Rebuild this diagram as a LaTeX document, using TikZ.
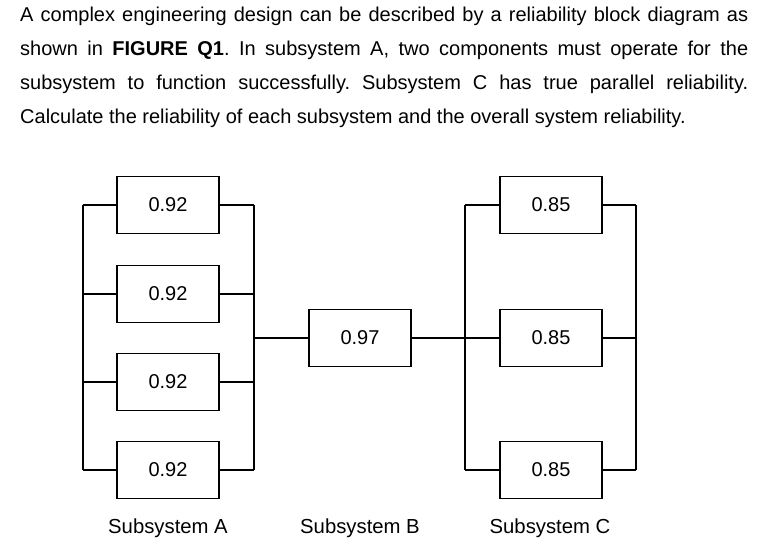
\documentclass[tikz,border=0pt]{standalone}
\usepackage{fontspec}
\setmainfont{Liberation Sans}
\begin{document}
\begin{tikzpicture}[x=1pt,y=-1pt,
  blk/.style={draw,line width=1.3pt,minimum width=102pt,minimum height=57pt,inner sep=0pt,font=\fontsize{20}{22}\selectfont},
  wire/.style={line width=2.6pt},
  lbl/.style={font=\fontsize{20.3}{22}\selectfont,inner sep=0pt}]
\useasboundingbox (0,0) rectangle (772,548);
\node[anchor=north west,inner sep=0pt,text width=728pt,align=justify,font=\fontsize{20}{34}\selectfont] (para) at (20,7)
{\frenchspacing\hyphenpenalty=10000 A complex engineering design can be described by a reliability block diagram as\linebreak shown in \textbf{FIGURE Q1}. In subsystem A, two components must operate for the\linebreak subsystem to function successfully. Subsystem C has true parallel reliability.\linebreak Calculate the reliability of each subsystem and the overall system reliability.\par};
% subsystem A
\foreach \i/\y in {1/205,2/294,3/382,4/470}{
  \node[blk] (a\i) at (168,\y) {0.92};
  \coordinate (al\i) at (83,\y);
  \coordinate (ar\i) at (254,\y);
  \draw[wire] (al\i) -- (a\i.west);
  \draw[wire] (a\i.east) -- (ar\i);
}
\draw[wire] (al1) -- (al4);
\draw[wire] (ar1) -- (ar4);
% subsystem B
\node[blk] (b) at (360,338) {0.97};
\coordinate (aj) at (254,338);
% subsystem C
\foreach \i/\y in {1/205,2/338,3/470}{
  \node[blk] (c\i) at (551,\y) {0.85};
  \coordinate (cl\i) at (465,\y);
  \coordinate (cr\i) at (636,\y);
  \draw[wire] (cl\i) -- (c\i.west);
  \draw[wire] (c\i.east) -- (cr\i);
}
\draw[wire] (cl1) -- (cl3);
\draw[wire] (cr1) -- (cr3);
\draw[wire] (aj) -- (b.west);
\draw[wire] (b.east) -- (cl2);
\node[lbl] (la) at (168,528) {Subsystem A};
\node[lbl] (lb) at (360,528) {Subsystem B};
\node[lbl] (lc) at (550,528) {Subsystem C};
\end{tikzpicture}
\end{document}
